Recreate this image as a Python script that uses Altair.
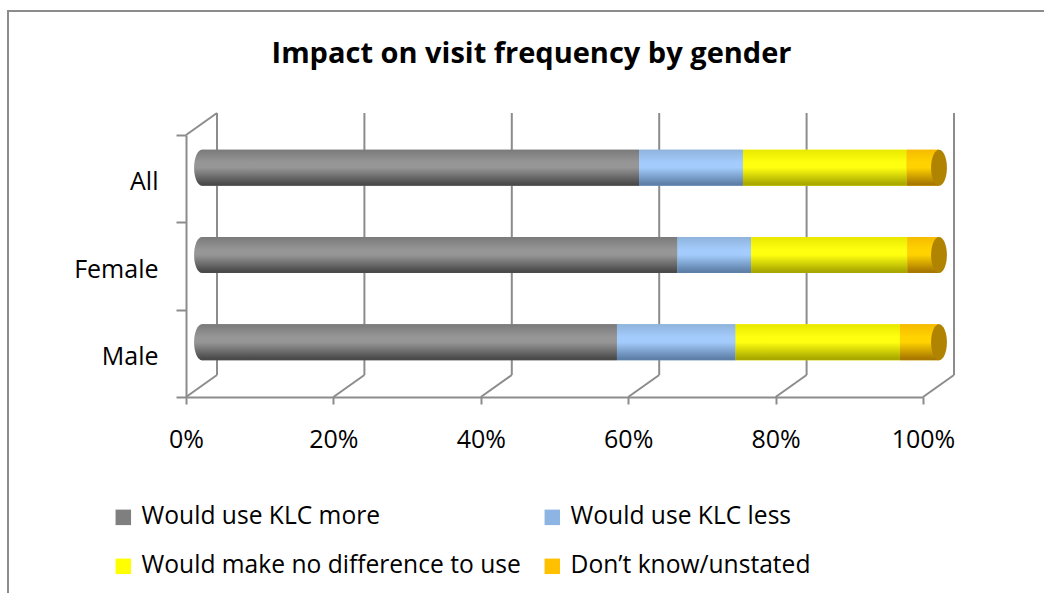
import altair as alt
import pandas as pd

# Survey responses by group (percent of respondents)
categories = ["All", "Female", "Male"]
series = [
    "Would use KLC more",
    "Would use KLC less",
    "Would make no difference to use",
    "Don\u2019t know/unstated",
]
use_more = [59.3, 64.5, 56.3]
use_less = [14.1, 10.0, 16.1]
no_difference = [22.2, 21.2, 22.3]
dont_know = [4.4, 4.3, 5.3]
tick_values = [0, 20, 40, 60, 80, 100]

colors = ["#7f7f7f", "#8db4e2", "#ffff00", "#ffc000"]
# light / mid / dark tones used to shade each cylinder segment
shades = [
    ("#7a7a7a", "#969696", "#4a4a4a"),
    ("#8fb3dc", "#a3cbfb", "#5e80a8"),
    ("#e8e800", "#ffff10", "#a8a800"),
    ("#f5bb00", "#ffd200", "#a87800"),
]
cap_color = "#b08400"

rows = []
for i, s in enumerate(series):
    vals = [use_more, use_less, no_difference, dont_know][i]
    for c, v in zip(categories, vals):
        rows.append({"group": c, "series": s, "order": i, "value": v})
df = pd.DataFrame(rows)

W, H = 737, 262          # front face of the plot box
DX, DY = 31, -22         # depth offset from front to back wall
MX, MY = 16, -11         # bars sit half way into the depth
BAR = 36
GRID = "#8c8c8c"
FONT = "Open Sans"

x_scale = alt.Scale(domain=[0, 100], nice=False, zero=False)
y_scale = alt.Scale(domain=categories, paddingInner=0, paddingOuter=0)

x_axis = alt.Axis(
    values=tick_values, labelExpr="datum.value + '%'", grid=False,
    labelFlush=False, labelOverlap=False,
    domainColor=GRID, domainWidth=2, tickColor=GRID, tickWidth=2, tickSize=7,
    labelFontSize=25, labelFont=FONT, labelColor="#000000", labelPadding=23,
    title=None,
)
y_axis = alt.Axis(
    tickBand="extent", grid=False,
    domainColor=GRID, domainWidth=2, tickColor=GRID, tickWidth=2, tickSize=10,
    labelFontSize=25, labelFont=FONT, labelColor="#000000", labelPadding=18,
    labelOffset=3, title=None,
)

stacked = alt.Chart(df).transform_stack(
    stack="value", groupby=["group"], as_=["x0", "x1"],
    sort=[alt.SortField("order", order="ascending")],
)

# outer frame around the whole figure
frame = alt.Chart(pd.DataFrame({"k": [0]})).mark_rect(
    fill="transparent", stroke=GRID, strokeWidth=2
).encode(
    x=alt.value(-178), x2=alt.value(W + 160),
    y=alt.value(-124), y2=alt.value(H + 240),
)

ticks_df = pd.DataFrame({"t": tick_values})
# back-wall gridlines
back_grid = alt.Chart(ticks_df).mark_rule(
    color=GRID, strokeWidth=2, xOffset=DX
).encode(
    x=alt.X("t:Q", scale=x_scale, axis=x_axis),
    y=alt.value(DY), y2=alt.value(H + DY),
)
# floor lines running from the front axis back to the wall
floor = alt.Chart(ticks_df).mark_rule(
    color=GRID, strokeWidth=2, xOffset=0, x2Offset=DX
).encode(
    x=alt.X("t:Q", scale=x_scale), x2="t:Q",
    y=alt.value(H), y2=alt.value(H + DY),
)
# top edge of the left wall
left_top = alt.Chart(pd.DataFrame({"t": [0]})).mark_rule(
    color=GRID, strokeWidth=2, xOffset=0, x2Offset=DX
).encode(
    x=alt.X("t:Q", scale=x_scale), x2="t:Q",
    y=alt.value(0), y2=alt.value(DY),
)

ellipse = "M0,-1 A0.44,1 0 1,1 0,1 A0.44,1 0 1,1 0,-1 Z"


def grad(light, mid, dark):
    return alt.LinearGradient(
        gradient="linear", x1=0, y1=0, x2=0, y2=1,
        stops=[
            alt.GradientStop(color=light, offset=0),
            alt.GradientStop(color=mid, offset=0.35),
            alt.GradientStop(color=mid, offset=0.5),
            alt.GradientStop(color=dark, offset=0.95),
            alt.GradientStop(color=dark, offset=1),
        ],
    )


# rounded back end of each cylinder
left_caps = stacked.transform_filter(alt.datum.order == 0).mark_point(
    shape=ellipse, size=BAR * BAR, filled=True, opacity=1,
    fill=grad(*shades[0]), strokeWidth=0, xOffset=MX, yOffset=MY,
).encode(
    x=alt.X("x0:Q", scale=x_scale),
    y=alt.Y("group:N", scale=y_scale, axis=y_axis),
)

# flat-coloured stacked bars carrying the legend
base_bars = stacked.mark_bar(
    size=BAR, xOffset=MX, x2Offset=MX, yOffset=MY
).encode(
    x=alt.X("x0:Q", scale=x_scale), x2="x1:Q",
    y=alt.Y("group:N", scale=y_scale, axis=y_axis),
    color=alt.Color(
        "series:N",
        scale=alt.Scale(domain=series, range=colors),
        legend=alt.Legend(
            title=None, orient="none", legendX=-75, legendY=370,
            direction="horizontal", columns=2, columnPadding=19,
            rowPadding=24, padding=0,
            symbolType="square", symbolSize=240, symbolStrokeWidth=0,
            symbolOpacity=1, labelFontSize=24.6, labelFont=FONT,
            labelColor="#000000", labelOffset=6, labelLimit=500,
        ),
    ),
)

# shaded overlay for each segment
shaded = [
    stacked.transform_filter(alt.datum.order == i).mark_bar(
        size=BAR, xOffset=MX, x2Offset=MX, yOffset=MY, fill=grad(*shades[i])
    ).encode(
        x=alt.X("x0:Q", scale=x_scale), x2="x1:Q",
        y=alt.Y("group:N", scale=y_scale),
    )
    for i in range(len(series))
]

# end face of each cylinder
right_caps = stacked.transform_filter(alt.datum.order == len(series) - 1).mark_point(
    shape=ellipse, size=BAR * BAR, filled=True, opacity=1,
    color=cap_color, strokeWidth=0, xOffset=MX, yOffset=MY,
).encode(
    x=alt.X("x1:Q", scale=x_scale),
    y=alt.Y("group:N", scale=y_scale),
)

chart = alt.layer(
    frame, back_grid, floor, left_top, left_caps, base_bars, *shaded, right_caps
).properties(
    width=W, height=H,
    title=alt.Title(
        "Impact on visit frequency by gender", font=FONT, fontSize=29,
        fontWeight="bold", color="#000000", anchor="middle", frame="group",
        offset=-59, dx=-23,
    ),
    autosize=alt.AutoSizeParams(type="none"),
    padding={"left": 186, "top": 135, "right": 121, "bottom": 196},
).configure(background="#ffffff").configure_view(stroke="transparent", strokeWidth=0)

chart.save("out.html", embed_options={"renderer": "svg", "actions": False})
